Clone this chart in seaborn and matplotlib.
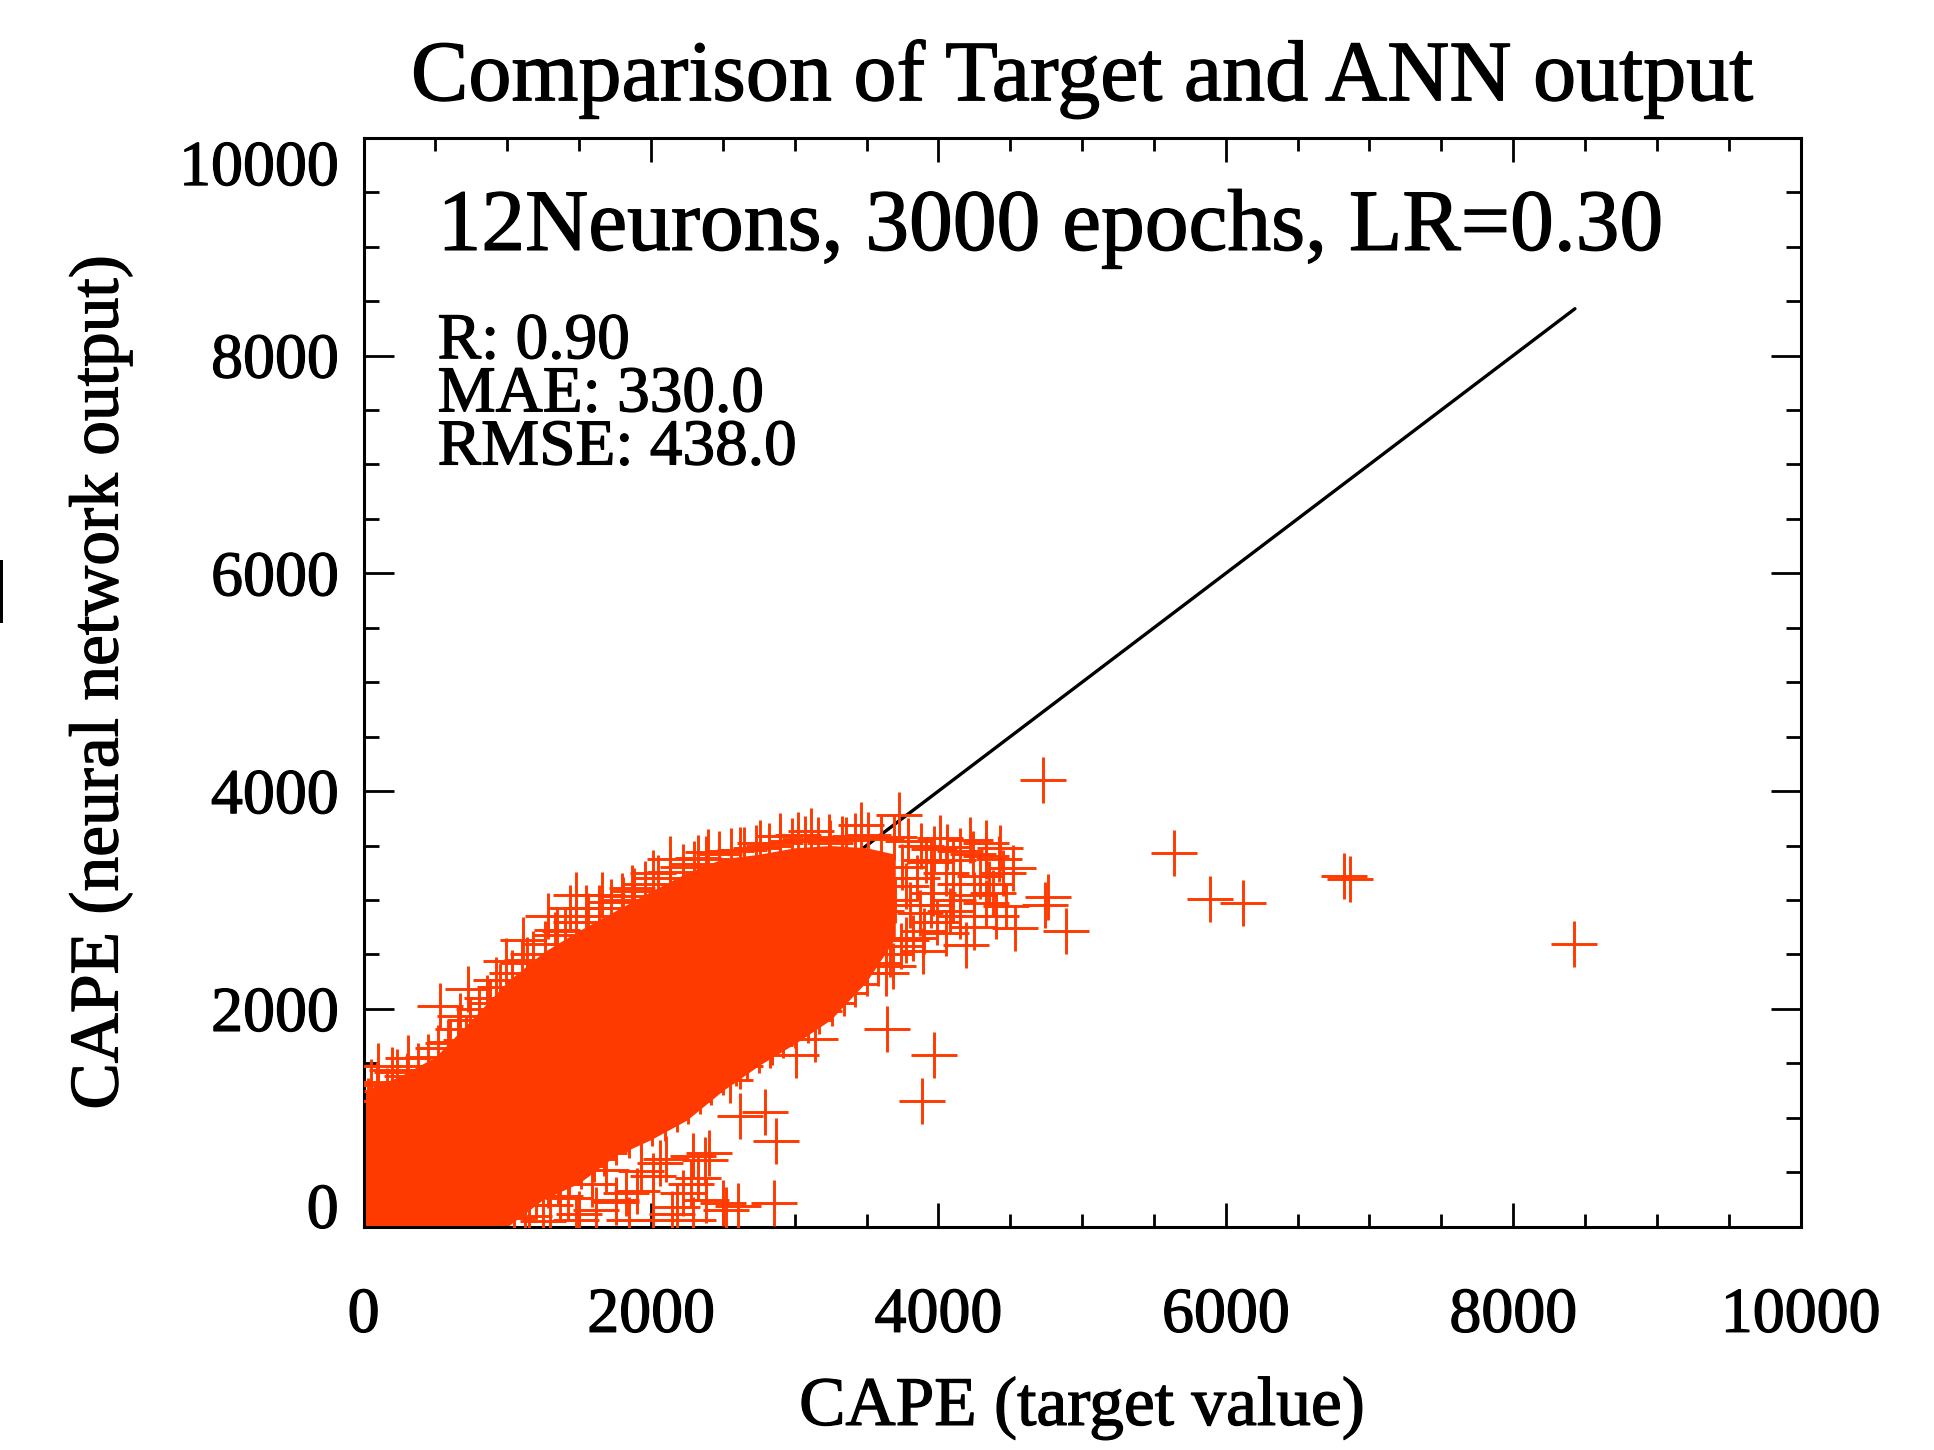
import numpy as np
import pandas as pd
import matplotlib.pyplot as plt
import matplotlib.patheffects as pe
from matplotlib.patches import Rectangle
from matplotlib.ticker import MultipleLocator, FuncFormatter
import seaborn as sns

# saturated core of the cloud: upper / lower edge
core_x = [0, 250, 500, 750, 1000, 1250, 1500, 1750, 2000, 2250, 2500, 2750,
          3000, 3250, 3500, 3700]
core_hi = [1250, 1380, 1560, 1900, 2250, 2520, 2720, 2900, 3080, 3250, 3380,
           3420, 3480, 3500, 3480, 3420]
core_lo = [0, 0, 0, 0, 0, 250, 400, 650, 800, 980, 1250, 1480, 1680, 1900,
           2250, 2650]

# crosses along the upper edge of the cloud
upper_x = [30, 90, 160, 230, 300, 380, 450, 520, 600, 660, 740, 800, 860, 950,
           1030, 1100, 1180, 1260, 1330, 1400, 1480, 1560, 1640, 1720, 1800,
           1880, 1960, 2050, 2130, 2220, 2300, 2380, 2470, 2560, 2650, 2730,
           2820, 2900, 2980, 3070, 3160, 3240, 3330, 3420, 3510, 3600, 3690,
           3790, 3880, 3970, 4060, 4150, 4240, 4330, 4420]
upper_y = [1150, 1300, 1250, 1420, 1380, 1480, 1560, 1640, 1700, 1820, 1900,
           2000, 2100, 2200, 2330, 2420, 2500, 2600, 2680, 2720, 2800, 2850,
           2930, 2980, 3040, 3080, 3150, 3200, 3260, 3300, 3330, 3380, 3420,
           3450, 3460, 3480, 3500, 3520, 3540, 3560, 3550, 3580, 3560, 3590,
           3600, 3560, 3580, 3540, 3500, 3470, 3490, 3450, 3420, 3400, 3380]

# crosses along the lower edge of the band
lower_x = [1050, 1120, 1200, 1280, 1350, 1430, 1510, 1600, 1680, 1760, 1850,
           1930, 2010, 2100, 2180, 2260, 2340, 2420, 2500, 2590, 2670, 2750,
           2840, 2920, 3000, 3090, 3170, 3260, 3340, 3420, 3500, 3580, 3660,
           3740, 3820, 3900, 3990, 4080]
lower_y = [80, 200, 280, 380, 420, 500, 560, 620, 700, 780, 840, 880, 950,
           1000, 1080, 1150, 1250, 1330, 1420, 1500, 1560, 1620, 1700, 1760,
           1850, 1900, 1980, 2050, 2150, 2230, 2330, 2420, 2500, 2580, 2650,
           2720, 2800, 2900]

# scattered crosses: upper left, right cluster, far outliers, lower tail
other_x = [100, 309, 195, 50, 587, 715, 529, 668, 877, 726, 923, 993, 1109,
           1134, 1283, 1343, 1434, 1480, 1550, 1656, 1804, 1870, 2011, 2129,
           2327, 2396,
           2617, 2756, 2895, 3022, 3115, 3243, 3359, 3463, 3723, 3915, 4008,
           4101, 4217, 4333, 4426, 4519,
           3777, 3962, 4287, 4380, 4333, 4472, 3869, 4148, 4055, 3777, 3544,
           4194, 3892, 3683, 3637, 4530, 4762, 4739, 4890, 4727,
           3750, 3850, 3950, 4050, 4150, 4250, 4350, 4450, 3800, 3950, 4100,
           4250, 4400, 3700, 3600, 3650,
           5637, 5887, 6117, 6820, 6868, 8420,
           3644, 3967, 3888, 3138, 3011, 2825, 2617, 2547, 2795, 2867, 2855,
           2605, 2501, 2524, 2385, 2373, 2292, 2222, 2292, 2060, 2013, 2013,
           1828, 1759, 1689, 1596, 1480, 1364,
           1588, 1760, 1931, 2103, 2275, 2146, 1845, 1502, 1674, 2403, 2618,
           1150, 1300, 1250, 1620, 1900, 2180, 1420, 2330]
other_y = [1472, 1549, 1436, 1330, 1687, 1717, 2023, 1931, 2054, 2183, 2268,
           2436, 2635, 2452, 2850, 2727, 2927, 3049, 2929, 3049, 3003, 3110,
           3250, 3376, 3386, 3441,
           3462, 3523, 3590, 3600, 3630, 3523, 3554, 3691, 3783, 3370, 3569,
           3370, 3554, 3523, 3477, 3294,
           3125, 3064, 3217, 3064, 2972, 2941, 2881, 2850, 2697, 2635, 2574,
           2590, 2528, 2390, 2330, 2743, 3027, 2957, 2712, 4105,
           3300, 3200, 3350, 3250, 3150, 3050, 3150, 3250, 2950, 2950, 3000,
           2750, 2850, 3000, 2900, 3200,
           3434, 3012, 2975, 3223, 3196, 2599,
           1815, 1577, 1154, 1724, 1580, 1671, 1472, 1350, 1050, 787, 217,
           187, 217, 156, 248, 615, 646, 309, 64, 585, 462, 64,
           309, 248, 523, 646, 64, 278,
           396, 226, 510, 623, 396, 113, 57, 113, 680, 680, 1019,
           100, 200, 50, 150, 330, 180, 260, 450]

line_x = [0, 8430]
line_y = [0, 8430]

stats = ["R: 0.90", "MAE: 330.0", "RMSE: 438.0"]

RED = "#ff3a00"

sns.set_style("ticks")
plt.rcParams["font.family"] = ["Liberation Serif", "DejaVu Serif"]
plt.rcParams["text.color"] = "black"
plt.rcParams["xtick.color"] = "black"
plt.rcParams["ytick.color"] = "black"
plt.rcParams["axes.edgecolor"] = "black"

df = pd.DataFrame({"target": upper_x + lower_x + other_x,
                   "ann": upper_y + lower_y + other_y})

fig = plt.figure(figsize=(19.34, 14.5), dpi=100)
ax = fig.add_axes([0.188, 0.154, 0.743, 0.751])

sns.lineplot(x=line_x, y=line_y, color="black", linewidth=2.4, ax=ax, zorder=1)
ax.fill_between(core_x, core_lo, core_hi, color=RED, linewidth=0, zorder=2)
sns.scatterplot(data=df, x="target", y="ann", marker="+", s=1050,
                color=RED, linewidth=2.1, ax=ax, zorder=3)

heavy = [pe.withStroke(linewidth=0.9, foreground="black")]

ax.set_xlim(0, 10000)
ax.set_ylim(0, 10000)
ax.xaxis.set_major_locator(MultipleLocator(2000))
ax.yaxis.set_major_locator(MultipleLocator(2000))
ax.xaxis.set_minor_locator(MultipleLocator(500))
ax.yaxis.set_minor_locator(MultipleLocator(500))
# the end labels of the y axis are drawn by hand, IDL nudges them inwards
ax.yaxis.set_major_formatter(FuncFormatter(
    lambda v, p: "" if v in (0, 10000) else f"{v:.0f}"))
ax.tick_params(axis="both", which="both", direction="in", top=True,
               right=True, width=2, colors="black", labelsize=46)
ax.tick_params(axis="x", which="major", length=17, pad=44)
ax.tick_params(axis="x", which="minor", length=9.5)
ax.tick_params(axis="y", which="major", length=21.5, pad=18)
ax.tick_params(axis="y", which="minor", length=11)
for lab in ax.get_xticklabels() + ax.get_yticklabels():
    lab.set_path_effects(heavy)
for sp in ax.spines.values():
    sp.set_linewidth(2.2)

ax.text(-0.0174, -0.001, "0", transform=ax.transAxes, ha="right",
        va="baseline", fontsize=46, path_effects=heavy)
ax.text(-0.0174, 0.997, "10000", transform=ax.transAxes, ha="right",
        va="top", fontsize=46, path_effects=heavy)

ax.set_xlabel("")
ax.set_ylabel("")
ax.set_title("Comparison of Target and ANN output", fontsize=62, pad=27,
             path_effects=heavy)
ax.text(0.5, -0.182, "CAPE (target value)", transform=ax.transAxes,
        ha="center", va="baseline", fontsize=50, path_effects=heavy)
ax.text(-0.183, 0.5, "CAPE (neural network output)", transform=ax.transAxes,
        ha="center", va="center", rotation=90, fontsize=50, path_effects=heavy)

ax.text(0.0515, 0.897, "12Neurons, 3000 epochs, LR=0.30",
        transform=ax.transAxes, ha="left", va="baseline", fontsize=63,
        path_effects=heavy)
# three stat lines in one block, baseline given for the last line
ax.text(0.0515, 0.700, "\n".join(stats), transform=ax.transAxes, ha="left",
        va="baseline", fontsize=47, linespacing=0.86, path_effects=heavy)

fig.add_artist(Rectangle((0, 1 - 623 / 1450), 3 / 1934, 63 / 1450,
                         transform=fig.transFigure, facecolor="black",
                         edgecolor="none"))

fig.savefig("out.png", dpi=100, facecolor="white")
